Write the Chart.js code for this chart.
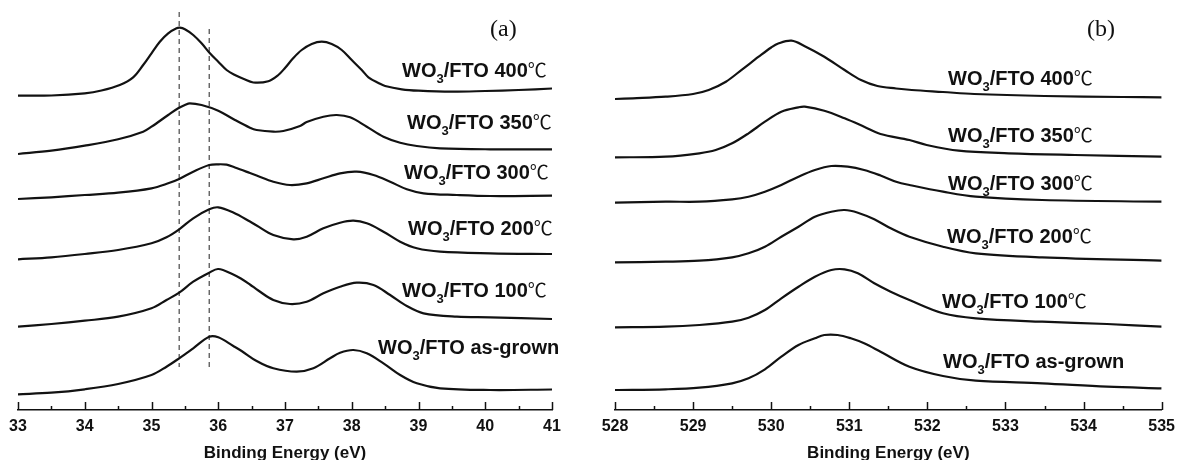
<!DOCTYPE html>
<html><head><meta charset="utf-8">
<script src="https://cdn.jsdelivr.net/npm/chart.js@4/dist/chart.umd.min.js"></script>
<style>
html,body{margin:0;padding:0;background:#fff;overflow:hidden;}
#ca{position:absolute;left:0;top:0;}
#cb{position:absolute;left:590px;top:0;}
</style>
</head><body>
<canvas id="ca" width="590" height="460"></canvas>
<canvas id="cb" width="592" height="460"></canvas>
<script>
// ---------- DATA: panel (a) W 4f, binding energy (eV) vs intensity (a.u., offset-stacked) ----------
const sampleNames = ['400℃', '350℃', '300℃', '200℃', '100℃', 'as-grown'];

const eA400 = [33.0,33.5,34.0,34.25,34.525,34.725,34.875,35.0,35.125,35.25,35.375,35.425,35.5,35.625,35.75,35.875,36.0,36.125,36.25,36.375,36.525,36.75,36.9,37.0,37.125,37.25,37.4,37.55,37.7,37.85,38.0,38.15,38.25,38.4,38.5,38.75,39.0,39.5,40.0,40.5,41.0];
const iA400 = [314.3,314.5,316.7,319.5,325,332.7,345,356.7,368.3,376.7,381.7,382.3,380.7,375,366.7,356.7,348.3,340,335,331.2,327.5,328.8,335,342,352,360,366,368.3,366,360,350,340,332.7,327,324,320.7,319.3,318.3,319,320,321.5];

const eA350 = [33.0,33.5,34.0,34.5,34.875,35.0,35.25,35.4,35.5,35.575,35.75,36.0,36.25,36.475,36.575,36.825,36.975,37.225,37.325,37.575,37.775,37.975,38.225,38.475,38.725,38.975,39.325,40.075,41.0];
const iA350 = [256,259.3,264.3,270.7,278.3,283.3,295,301.7,305,306.7,305,299.3,290,282.3,280,278.3,279,284,288,293.3,295,292.7,283.3,273.3,267.3,264,261.7,260.7,260.7];

const eA300 = [33.0,33.5,34.0,34.5,35.0,35.25,35.415,35.625,35.865,36.0,36.125,36.25,36.475,36.575,36.825,37.075,37.325,37.575,37.825,38.075,38.325,38.575,38.825,39.075,39.575,40.075,41.0];
const iA300 = [211,212.7,215,217.3,221.7,226.7,231,238.3,245,245.7,245.3,242.5,237,234.5,228.3,225,226.7,231.7,236.7,238.3,235,228.3,220.7,216.7,215,214,214.3];

const eA200 = [33.0,33.5,34.0,34.5,35.0,35.225,35.415,35.625,35.865,36.0,36.225,36.475,36.575,36.825,37.125,37.325,37.575,37.825,38.025,38.225,38.475,38.725,38.975,39.325,40.075,41.0];
const iA200 = [150.7,152.7,156,160,166.7,172.7,180.7,191.7,200.7,202.7,197.5,188.5,184.5,175,170.7,173.3,181.7,187.3,189.3,186.7,178.3,168.3,161.7,158.3,156.7,156];

const eA100 = [33.0,33.5,34.0,34.5,35.0,35.225,35.415,35.625,35.865,36.0,36.225,36.35,36.475,36.6,36.825,37.075,37.325,37.575,37.825,38.075,38.325,38.575,38.825,39.075,39.575,40.075,41.0];
const iA100 = [83.3,86,89.3,93.3,101.7,110,117.3,128.3,137.3,141,135.5,131,125.5,119.5,110,106,108.3,116.7,123.3,127.3,125,115,104,96.7,93.3,92.7,91];

const eAasg = [33.0,33.5,34.0,34.5,35.0,35.225,35.415,35.625,35.865,36.0,36.225,36.35,36.575,36.825,37.175,37.425,37.675,37.825,38.025,38.225,38.475,38.725,38.975,39.325,40.075,41.0];
const iAasg = [15.7,17.3,20.7,26,35,43.3,51.7,61.7,73.3,72.7,64,59,49,41.7,38.3,41.7,51.7,57.3,60,56.7,46.7,35,26.7,21.7,20,20.5];

// reference (dashed) peak-position markers, panel (a)
const markerE = [35.415, 35.865];
const markerTop = [398, 381];
const markerBottom = [43, 43];

// ---------- DATA: panel (b) O 1s ----------
const eB400 = [528.0,528.23,528.65,529.0,529.2,529.42,529.63,529.84,530.0,530.09,530.26,530.43,530.68,530.94,531.15,531.36,531.6,531.8,532.2,532.6,533.5,534.5,535.0];
const iB400 = [311,311.7,313.3,316,320,328.3,340.7,353.3,362.5,366.5,369.3,363.8,353.3,340,330,324,321.5,320,318,316,314,313,312.7];

const eB350 = [528.0,528.65,529.08,529.29,529.5,529.71,529.92,530.13,530.35,530.43,530.68,530.94,531.19,531.4,531.77,531.99,532.4,533.04,533.89,535.0];
const iB350 = [252.7,253.3,256.7,260,266.7,276.7,288.3,298.3,302.7,303.3,299.3,291.7,283.3,276,270,265,259.3,256.7,255,253.3];

const eB300 = [528.0,528.65,529.08,529.5,529.71,529.92,530.13,530.35,530.56,530.77,530.98,531.19,531.4,531.61,531.77,532.2,532.62,533.47,535.0];
const iB300 = [207.3,208.3,208.3,210.7,213.3,218.3,225,233.3,240,244,243.3,240,234.5,228,225,218.3,213.3,210,208.3];

const eB200 = [528.0,528.65,529.08,529.5,529.71,529.92,530.13,530.35,530.56,530.77,530.94,531.11,531.32,531.53,531.77,532.2,532.62,533.47,535.0];
const iB200 = [147.7,148.3,149.3,152.7,156.7,163.3,173.3,183.3,193.3,198.3,200,197.3,190.7,181.7,173.3,163.3,156.7,152.7,149.3];

const eB100 = [528.0,528.65,529.08,529.5,529.71,529.92,530.13,530.35,530.56,530.77,530.94,531.11,531.32,531.53,531.77,532.2,532.62,533.47,534.3,535.0];
const iB100 = [82.7,83.3,85,88.3,92.3,100,111.7,123.3,133.3,140,140.7,136.7,126.7,118.3,110,96.7,91.7,88.3,86,83.3];

const eBasg = [528.0,528.65,529.08,529.5,529.71,529.92,530.13,530.35,530.56,530.68,530.85,531.02,531.19,531.4,531.77,532.2,532.62,533.47,534.3,535.0];
const iBasg = [20,20.7,22.3,26.7,31.7,40.7,53.3,65,71.7,75,75,71.7,66.7,58.3,43.3,34,29.3,26.7,23.3,21.7];

// ---------- tick labels ----------
const ticksA = [33,34,35,36,37,38,39,40,41];
const ticksB = [528,529,530,531,532,533,534,535];
const axisTitle = 'Binding Energy (eV)';

// ---------- layout (pixels within each canvas) ----------
const labelPosA = [[402,77],[407,129],[404,179],[408,235],[402,297],[378,354]];
const labelPosB = [[358,85],[358,141.5],[358,190],[357,243],[352,308],[353,368]];

function pts(xs, ys){ return xs.map((x,i)=>({x:x, y:ys[i]})); }

const FONT = '"Liberation Sans", Arial, sans-serif';

function lineDS(data){
  return {data:data, showLine:true, borderColor:'#121212', borderWidth:2.2, pointRadius:0,
          tension:0.35, fill:false};
}

function drawLabel(ctx, x, y, name){
  ctx.save();
  ctx.fillStyle = '#111';
  ctx.textBaseline = 'alphabetic';
  ctx.textAlign = 'left';
  ctx.font = 'bold 20px ' + FONT;
  ctx.fillText('WO', x, y);
  let cx = x + ctx.measureText('WO').width;
  ctx.font = 'bold 13px ' + FONT;
  ctx.fillText('3', cx, y + 6);
  cx += ctx.measureText('3').width;
  ctx.font = 'bold 20px ' + FONT;
  let main = '/FTO ';
  let unit = '';
  if (name.endsWith('℃')) { main += name.slice(0, -1); unit = '℃'; } else { main += name; }
  ctx.fillText(main, cx, y);
  cx += ctx.measureText(main).width;
  if (unit) {
    ctx.font = '19px "Noto Sans CJK SC", "DejaVu Sans", sans-serif';
    ctx.fillText(unit, cx, y);
  }
  ctx.restore();
}

function makePlugin(labelPos, panelTag, tagPos){
  return {
    id: 'deco' + panelTag,
    afterDatasetsDraw(chart){
      const ctx = chart.ctx;
      const xs = chart.scales.x;
      const yb = chart.chartArea.bottom;
      // inward tick marks (major every 1, minor every 0.5)
      ctx.save();
      ctx.strokeStyle = '#111';
      ctx.lineWidth = 1.5;
      xs.ticks.forEach(t => {
        const px = Math.round(xs.getPixelForValue(t.value)) + 0.5;
        const major = Number.isInteger(Math.round(t.value*1000)/1000);
        const len = major ? 8 : 4;
        ctx.beginPath(); ctx.moveTo(px, yb); ctx.lineTo(px, yb - len); ctx.stroke();
      });
      ctx.restore();
      // sample labels
      labelPos.forEach((p, i) => drawLabel(ctx, p[0], p[1], sampleNames[i]));
      // panel tag
      ctx.save();
      ctx.fillStyle = '#111';
      ctx.font = '24px "Liberation Serif", "Times New Roman", serif';
      ctx.textBaseline = 'alphabetic';
      ctx.fillText(panelTag, tagPos[0], tagPos[1]);
      ctx.restore();
    }
  };
}

function makeChart(id, datasets, xmin, xmax, tickVals, padL, padR, labelPos, tag, tagPos){
  return new Chart(document.getElementById(id), {
    type: 'scatter',
    data: { datasets: datasets },
    options: {
      responsive: false, animation: false, devicePixelRatio: 1,
      layout: { padding: { left: padL, right: padR, top: 0, bottom: 0 } },
      plugins: { legend: { display: false }, tooltip: { enabled: false } },
      scales: {
        x: {
          type: 'linear', min: xmin, max: xmax,
          afterFit: s => { s.height = 50; },
          afterBuildTicks: s => {
            const arr = [];
            for (let v = xmin; v <= xmax + 1e-9; v += 0.5) arr.push({ value: Math.round(v*10)/10 });
            s.ticks = arr;
          },
          grid: { display: false, drawTicks: false },
          border: { display: true, color: '#111', width: 1.5 },
          ticks: {
            autoSkip: false, maxRotation: 0, padding: 7, color: '#111',
            font: { family: FONT, size: 16, weight: 'bold' },
            callback: v => (tickVals.includes(v) ? String(v) : '')
          },
          title: { display: true, text: axisTitle, color: '#111',
                   font: { family: FONT, size: 17, weight: 'bold' }, padding: { top: 0, bottom: -4 } }
        },
        y: { display: false, min: 0, max: 410 }
      }
    },
    plugins: [makePlugin(labelPos, tag, tagPos)]
  });
}

const dsA = [
  lineDS(pts(eA400, iA400)), lineDS(pts(eA350, iA350)), lineDS(pts(eA300, iA300)),
  lineDS(pts(eA200, iA200)), lineDS(pts(eA100, iA100)), lineDS(pts(eAasg, iAasg))
];
markerE.forEach((e, i) => {
  dsA.push({ data: [{x:e, y:markerTop[i]}, {x:e, y:markerBottom[i]}], showLine: true,
             borderColor: '#555', borderWidth: 1.3, borderDash: [5, 4], pointRadius: 0, tension: 0 });
});
const dsB = [
  lineDS(pts(eB400, iB400)), lineDS(pts(eB350, iB350)), lineDS(pts(eB300, iB300)),
  lineDS(pts(eB200, iB200)), lineDS(pts(eB100, iB100)), lineDS(pts(eBasg, iBasg))
];

makeChart('ca', dsA, 33, 41, ticksA, 18, 38, labelPosA, '(a)', [490, 36]);
makeChart('cb', dsB, 528, 535, ticksB, 25, 15, labelPosB, '(b)', [497, 36]);
</script>
</body></html>
